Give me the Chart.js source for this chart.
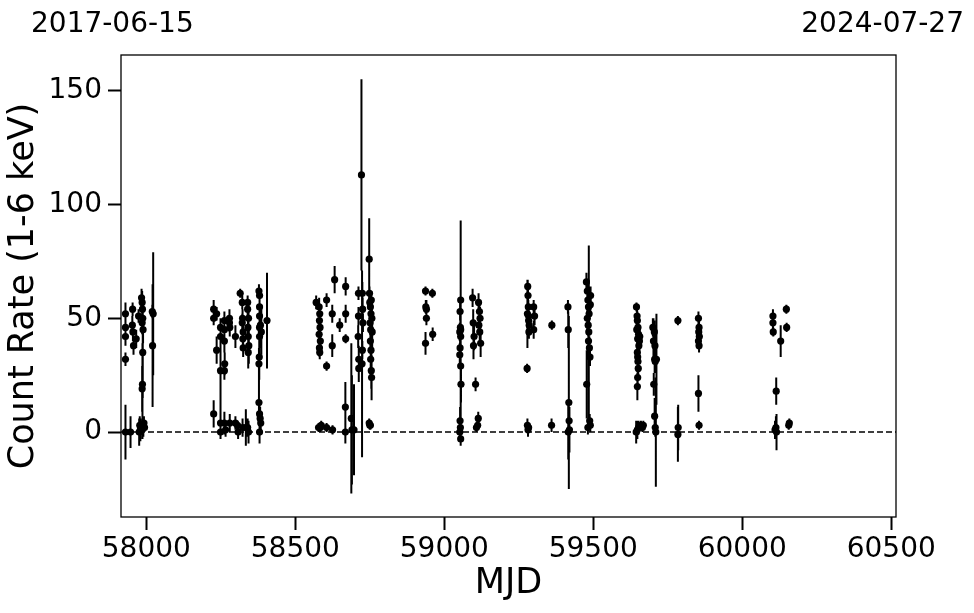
<!DOCTYPE html>
<html>
<head>
<meta charset="utf-8">
<script src="https://cdn.jsdelivr.net/npm/chart.js@4.4.1/dist/chart.umd.min.js"></script>
<style>
  html, body { margin: 0; padding: 0; background: #fff; }
</style>
</head>
<body>
<canvas id="chart" width="974" height="613"></canvas>
<script>
// Light curve: MJD, count rate (1-6 keV) and 1-sigma error
const mjd = [
  // 2017 season
  57930, 57930, 57930, 57930, 57930, 57947, 57954, 57953, 57955, 57957, 57966, 57974, 57976, 57978, 57980,
  57984, 57986, 57987, 57988, 57986, 57989, 57988, 57987, 57986, 57987, 57990, 57992, 57994, 58020, 58021, 58023,
  // 2018 season
  58226, 58226, 58226, 58236, 58236, 58249, 58249, 58249, 58249, 58249, 58262, 58262, 58262, 58263, 58262,
  58262, 58266, 58279, 58279, 58280, 58280, 58299, 58299, 58306, 58308, 58315, 58322, 58323, 58322, 58325,
  58324, 58325, 58323, 58334, 58340, 58340, 58343, 58341, 58342, 58344, 58342, 58340, 58343, 58378, 58380,
  58380, 58380, 58380, 58380, 58379, 58378, 58378, 58380, 58382, 58384, 58380, 58383, 58386, 58405,
  // 2019 season
  58570, 58580, 58582, 58581, 58583, 58580, 58584, 58581, 58582, 58578, 58584, 58587, 58605, 58605, 58605,
  58624, 58624, 58625, 58632, 58649, 58669, 58669, 58669, 58668, 58668, 58688, 58690, 58697, 58712, 58712,
  58711, 58713, 58713, 58722, 58724, 58725, 58726, 58727, 58725, 58748, 58749, 58750, 58752, 58754, 58751,
  58753, 58752, 58754, 58753, 58755, 58756, 58748, 58750, 58752, 58755, 58757, 58758,
  // 2020 season
  58937, 58960, 58938, 58940, 58940, 58961, 58937, 59055, 59053, 59054, 59052, 59055, 59053, 59052, 59055,
  59056, 59055, 59053, 59054, 59052, 59055, 59095, 59097, 59100, 59098, 59105, 59108, 59112, 59115, 59118,
  59120, 59116, 59119, 59122, 59114,
  // 2021 season
  59280, 59281, 59282, 59279, 59283, 59285, 59284, 59283, 59278, 59279, 59281, 59283, 59300, 59303, 59300,
  59361, 59360, 59415, 59416, 59418, 59420, 59416, 59419, 59477, 59480, 59482, 59484, 59486, 59480, 59483,
  59485, 59484, 59487, 59489, 59478, 59488, 59490, 59482, 59490, 59491,
  // 2022 season
  59645, 59647, 59648, 59650, 59646, 59652, 59649, 59655, 59653, 59656, 59648, 59649, 59650, 59651, 59649,
  59648, 59644, 59648, 59652, 59660, 59665, 59668, 59700, 59702, 59705, 59707, 59706, 59708, 59703, 59712,
  59706, 59708, 59710, 59784, 59785, 59784, 59853, 59855, 59854, 59856, 59853, 59855, 59853, 59855,
  // 2023 season
  60103, 60103, 60104, 60114, 60113, 60110, 60115, 60129, 60148, 60149, 60156, 60158
];
const rate = [
  52, 46, 42, 32, 0, 0, 54, 47, 44, 38, 41, 51, 0, 3, 1,
  59, 57, 54, 50, 48, 45, 35, 21, 19, 3, 2, 4, 2, 53, 38, 52,
  54, 50, 8, 52, 36, 46, 42, 27, 4, 0, 49, 45, 40, 30, 27,
  4, 1, 50, 48, 46, 4, 42, 4, 3, 0, 61, 57, 50, 48, 44,
  41, 37, 2, 2, 57, 54, 50, 46, 42, 38, 35, 2, 0, 62, 60,
  55, 51, 46, 42, 33, 30, 13, 8, 6, 4, 0, 47, 44, 49,
  57, 55, 52, 49, 46, 43, 40, 37, 35, 2, 2, 3, 58, 29, 2,
  52, 38, 1, 67, 47, 64, 52, 41, 11, 0, 6, 1, 1, 61, 51,
  42, 32, 28, 113, 30, 61, 54, 48, 36, 76, 61, 57, 55, 52, 48,
  45, 40, 36, 32, 27, 24, 4, 3, 3, 58, 50, 44,
  62, 61, 55, 54, 50, 43, 39, 58, 53, 46, 44, 45, 37, 34, 29,
  21, 42, 5, 2, 0, -3, 59, 48, 42, 38, 21, 2, 3, 57, 53,
  50, 47, 44, 39, 6,
  64, 60, 55, 52, 49, 47, 44, 51, 28, 3, 1, 2, 55, 51, 45,
  47, 3, 55, 45, 13, 1, 0, 5, 66, 62, 58, 55, 52, 50, 47,
  44, 40, 37, 33, 21, 5, 3, 2, 56, 60,
  55, 51, 49, 46, 45, 43, 41, 40, 38, 42, 35, 33, 31, 28, 24,
  20, 0, 1, 2, 3, 2, 3, 46, 40, 44, 38, 32, 31, 21, 32,
  7, 2, 0, 49, 2, -1, 50, 46, 44, 42, 40, 38, 17, 3,
  51, 48, 44, 18, 2, 1, 0, 40, 54, 46, 3, 4
];
const rateErr = [
  5, 4, 4, 3, 12, 7, 3, 4, 4, 4, 4, 3, 6, 4, 5,
  4, 5, 5, 6, 5, 6, 20, 18, 10, 6, 4, 3, 2, 3, 27, 27,
  4, 3, 6, 3, 6, 4, 4, 22, 3, 3, 4, 5, 5, 5, 4,
  5, 3, 4, 4, 4, 4, 5, 3, 2, 3, 2, 3, 4, 4, 4,
  3, 4, 4, 8, 3, 4, 5, 5, 6, 8, 7, 4, 5, 3, 3,
  5, 5, 6, 5, 10, 7, 10, 6, 5, 4, 5, 8, 10, 21,
  3, 4, 4, 4, 4, 4, 4, 4, 3, 2, 2, 2, 3, 2, 2,
  4, 5, 2, 6, 3, 4, 4, 2, 11, 5, 33, 24, 20, 3, 4,
  5, 6, 6, 42, 41, 5, 5, 4, 4, 18, 3, 3, 4, 4, 5,
  5, 5, 6, 8, 8, 10, 2, 2, 2, 4, 5, 8,
  2, 2, 3, 4, 3, 3, 5, 4, 4, 5, 4, 48, 6, 5, 6,
  8, 5, 6, 5, 4, 3, 4, 6, 6, 6, 3, 2, 2, 4, 4,
  5, 4, 5, 6, 3,
  3, 4, 3, 15, 3, 4, 3, 4, 2, 3, 3, 2, 3, 4, 4,
  2, 3, 3, 8, 38, 10, 12, 5, 4, 4, 5, 5, 5, 6, 5,
  38, 6, 5, 4, 15, 3, 3, 3, 4, 4,
  2, 3, 4, 4, 3, 3, 4, 4, 3, 4, 3, 3, 3, 3, 4,
  6, 5, 4, 3, 2, 2, 2, 4, 10, 5, 5, 6, 5, 5, 20,
  8, 4, 24, 2, 10, 12, 3, 3, 3, 3, 3, 3, 8, 2,
  3, 3, 2, 6, 5, 4, 8, 7, 2, 2, 2, 2
];

const xTicks = [58000, 58500, 59000, 59500, 60000, 60500];
const yTicks = [0, 50, 100, 150];
const xRange = [57915, 60516];
const yRange = [-37.3, 165.7];
const startDate = '2017-06-15';
const endDate = '2024-07-27';

const FONT = 'DejaVu Sans';

const points = mjd.map((m, i) => ({ x: m, y: rate[i] }));

// error bars drawn through the chart scales
const errorBars = {
  id: 'errorBars',
  beforeDatasetsDraw(chart) {
    const { ctx, chartArea: a, scales: { x, y } } = chart;
    ctx.save();
    ctx.beginPath();
    ctx.rect(a.left, a.top, a.right - a.left, a.bottom - a.top);
    ctx.clip();
    ctx.strokeStyle = '#000';
    ctx.lineWidth = 2;
    ctx.beginPath();
    mjd.forEach((m, i) => {
      const px = x.getPixelForValue(m);
      ctx.moveTo(px, y.getPixelForValue(rate[i] - rateErr[i]));
      ctx.lineTo(px, y.getPixelForValue(rate[i] + rateErr[i]));
    });
    ctx.stroke();
    ctx.restore();
  }
};

// box around the plot + date labels on top
const frameAndDates = {
  id: 'frameAndDates',
  afterDraw(chart) {
    const { ctx, chartArea: a } = chart;
    ctx.save();
    ctx.strokeStyle = '#000';
    ctx.lineWidth = 1.3;
    ctx.strokeRect(a.left, a.top, a.right - a.left, a.bottom - a.top);
    ctx.fillStyle = '#000';
    ctx.font = '28px "' + FONT + '"';
    ctx.textBaseline = 'alphabetic';
    ctx.textAlign = 'left';
    ctx.fillText(startDate, 31, 32);
    ctx.textAlign = 'right';
    ctx.fillText(endDate, 964, 32);
    ctx.restore();
  }
};

new Chart(document.getElementById('chart'), {
  type: 'scatter',
  data: {
    datasets: [
      {
        data: points,
        pointRadius: 3.6,
        pointBackgroundColor: '#000',
        pointBorderWidth: 0,
        pointHoverRadius: 3.6
      },
      {
        type: 'line',
        data: [{ x: xRange[0], y: 0 }, { x: xRange[1], y: 0 }],
        borderColor: '#000',
        borderWidth: 1.5,
        borderDash: [6, 3],
        pointRadius: 0,
        fill: false
      }
    ]
  },
  options: {
    responsive: false,
    animation: false,
    events: [],
    layout: { padding: { left: 0, top: 55, right: 78, bottom: 0 } },
    plugins: {
      legend: { display: false },
      tooltip: { enabled: false }
    },
    scales: {
      x: {
        type: 'linear',
        min: xRange[0],
        max: xRange[1],
        afterFit: s => { s.height = 96; },
        afterBuildTicks: s => { s.ticks = xTicks.map(v => ({ value: v })); },
        grid: { drawOnChartArea: false, tickLength: 13, tickWidth: 2, tickColor: '#000' },
        border: { display: false },
        ticks: {
          color: '#000',
          font: { family: FONT, size: 28 },
          padding: 3,
          maxRotation: 0,
          autoSkip: false,
          callback: v => String(v)
        },
        title: {
          display: true,
          text: 'MJD',
          color: '#000',
          font: { family: FONT, size: 35 },
          padding: { top: 0, bottom: 8 }
        }
      },
      y: {
        type: 'linear',
        min: yRange[0],
        max: yRange[1],
        afterFit: s => { s.width = 121; },
        afterBuildTicks: s => { s.ticks = yTicks.map(v => ({ value: v })); },
        grid: { drawOnChartArea: false, tickLength: 13, tickWidth: 2, tickColor: '#000' },
        border: { display: false },
        ticks: {
          color: '#000',
          font: { family: FONT, size: 28 },
          padding: 6,
          callback: v => String(v)
        },
        title: {
          display: true,
          text: 'Count Rate (1-6 keV)',
          color: '#000',
          font: { family: FONT, size: 35 },
          padding: { top: 3, bottom: 0 }
        }
      }
    }
  },
  plugins: [errorBars, frameAndDates]
});
</script>
</body>
</html>
